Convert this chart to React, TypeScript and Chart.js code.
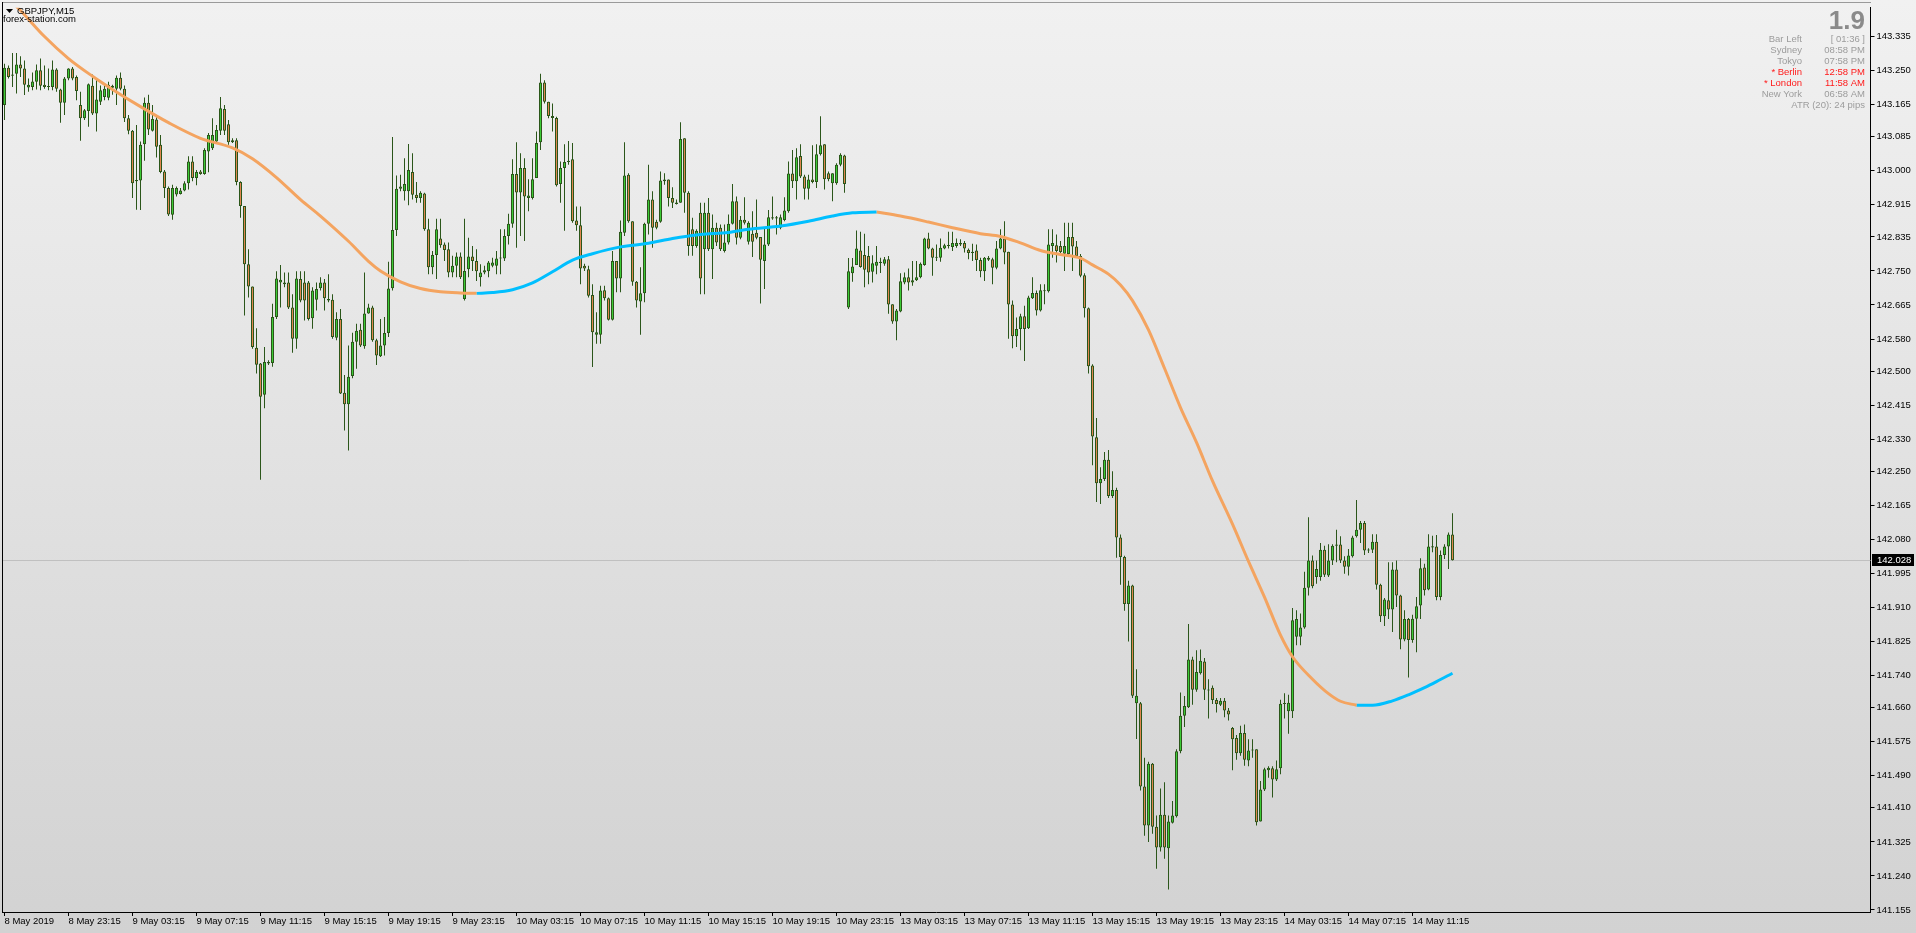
import React, { useEffect, useRef } from 'react';
import { Chart, registerables } from 'chart.js';

Chart.register(...registerables);

// [open, high, low, close]
type OHLC = [number, number, number, number];

// GBPJPY M15 — 8 May 19:15 .. 9 May (bars 0-99)
const candlesMay8to9: OHLC[] = [
  [143.164, 143.267, 143.127, 143.257], [143.257, 143.263, 143.230, 143.234], [143.237, 143.294, 143.209, 143.240], [143.242, 143.294, 143.193, 143.265],
  [143.265, 143.286, 143.234, 143.255], [143.255, 143.275, 143.189, 143.215], [143.208, 143.230, 143.197, 143.215], [143.209, 143.245, 143.201, 143.223],
  [143.222, 143.265, 143.203, 143.251], [143.251, 143.280, 143.201, 143.212], [143.215, 143.263, 143.205, 143.209], [143.209, 143.255, 143.201, 143.211],
  [143.209, 143.275, 143.201, 143.253], [143.253, 143.256, 143.197, 143.205], [143.203, 143.205, 143.120, 143.170], [143.170, 143.234, 143.139, 143.230],
  [143.230, 143.256, 143.226, 143.255], [143.255, 143.259, 143.226, 143.230], [143.234, 143.238, 143.176, 143.199], [143.164, 143.197, 143.075, 143.131],
  [143.131, 143.154, 143.127, 143.151], [143.149, 143.218, 143.110, 143.216], [143.212, 143.240, 143.139, 143.143], [143.143, 143.230, 143.098, 143.178],
  [143.172, 143.213, 143.164, 143.201], [143.184, 143.213, 143.176, 143.205], [143.182, 143.222, 143.176, 143.215], [143.212, 143.215, 143.190, 143.207],
  [143.205, 143.238, 143.164, 143.232], [143.232, 143.245, 143.201, 143.205], [143.205, 143.213, 143.122, 143.131], [143.131, 143.139, 143.091, 143.100],
  [143.100, 143.102, 142.932, 142.969], [142.974, 143.114, 142.903, 142.977], [142.976, 143.073, 142.902, 143.065], [143.066, 143.183, 143.025, 143.170],
  [143.170, 143.190, 143.089, 143.103], [143.100, 143.164, 143.098, 143.129], [143.128, 143.139, 143.033, 143.060], [143.065, 143.089, 142.994, 142.997],
  [142.998, 143.002, 142.932, 142.957], [142.957, 142.961, 142.887, 142.891], [142.890, 142.965, 142.878, 142.957], [142.941, 142.961, 142.936, 142.957],
  [142.942, 142.957, 142.941, 142.951], [142.951, 142.974, 142.949, 142.969], [142.969, 143.036, 142.953, 143.023], [143.023, 143.036, 142.974, 142.982],
  [142.982, 143.002, 142.964, 142.997], [142.998, 143.002, 142.990, 142.992], [142.992, 143.056, 142.990, 143.052], [143.048, 143.094, 142.996, 143.089],
  [143.056, 143.131, 143.052, 143.089], [143.073, 143.114, 143.069, 143.102], [143.100, 143.184, 143.089, 143.156], [143.154, 143.164, 143.089, 143.100],
  [143.116, 143.127, 143.065, 143.071], [143.071, 143.081, 143.069, 143.076], [143.076, 143.081, 142.964, 142.972], [142.972, 142.974, 142.883, 142.912],
  [142.912, 142.912, 142.639, 142.767], [142.767, 142.804, 142.684, 142.711], [142.711, 142.711, 142.556, 142.560], [142.558, 142.607, 142.494, 142.516],
  [142.519, 142.520, 142.229, 142.436], [142.441, 142.560, 142.407, 142.523], [142.519, 142.527, 142.515, 142.523], [142.520, 142.668, 142.511, 142.635],
  [142.635, 142.749, 142.630, 142.731], [142.721, 142.765, 142.659, 142.728], [142.721, 142.746, 142.709, 142.717], [142.721, 142.746, 142.655, 142.659],
  [142.659, 142.692, 142.546, 142.581], [142.581, 142.749, 142.556, 142.731], [142.730, 142.749, 142.672, 142.676], [142.721, 142.749, 142.626, 142.676],
  [142.721, 142.725, 142.626, 142.630], [142.632, 142.709, 142.606, 142.701], [142.678, 142.721, 142.651, 142.705], [142.707, 142.734, 142.701, 142.721],
  [142.721, 142.730, 142.651, 142.682], [142.676, 142.742, 142.672, 142.680], [142.678, 142.692, 142.581, 142.585], [142.583, 142.647, 142.577, 142.630],
  [142.630, 142.655, 142.443, 142.444], [142.446, 142.490, 142.352, 142.417], [142.417, 142.564, 142.302, 142.486], [142.488, 142.596, 142.482, 142.573],
  [142.573, 142.618, 142.506, 142.601], [142.603, 142.618, 142.560, 142.564], [142.562, 142.746, 142.556, 142.644], [142.644, 142.668, 142.643, 142.659],
  [142.659, 142.663, 142.573, 142.577], [142.577, 142.581, 142.515, 142.539], [142.537, 142.630, 142.535, 142.564], [142.564, 142.635, 142.539, 142.595],
  [142.595, 142.773, 142.585, 142.706], [142.707, 143.084, 142.701, 142.852], [142.852, 142.988, 142.837, 142.955], [142.955, 142.990, 142.949, 142.961],
];

// 9 May 20:15 .. 10 May 23:45 (bars 100-210)
const candlesMay9to10: OHLC[] = [
  [142.949, 143.031, 142.926, 142.967], [142.949, 143.067, 142.914, 143.002], [142.997, 143.044, 142.928, 142.940], [142.940, 142.972, 142.920, 142.932],
  [142.932, 142.949, 142.920, 142.945], [142.943, 142.945, 142.850, 142.854], [142.854, 142.880, 142.742, 142.759], [142.759, 142.800, 142.742, 142.790],
  [142.790, 142.880, 142.730, 142.854], [142.831, 142.880, 142.808, 142.814], [142.816, 142.821, 142.775, 142.802], [142.804, 142.821, 142.734, 142.746],
  [142.746, 142.788, 142.734, 142.763], [142.763, 142.796, 142.734, 142.786], [142.786, 142.796, 142.730, 142.734], [142.680, 142.880, 142.676, 142.750],
  [142.754, 142.833, 142.734, 142.786], [142.786, 142.812, 142.750, 142.775], [142.775, 142.804, 142.725, 142.749], [142.734, 142.767, 142.711, 142.746],
  [142.746, 142.763, 142.742, 142.752], [142.749, 142.775, 142.734, 142.771], [142.763, 142.783, 142.759, 142.771], [142.763, 142.800, 142.742, 142.781],
  [142.781, 142.854, 142.742, 142.783], [142.781, 142.854, 142.775, 142.837], [142.837, 142.893, 142.816, 142.868], [142.868, 143.029, 142.858, 142.992],
  [142.992, 143.071, 142.808, 142.946], [142.946, 143.044, 142.837, 143.007], [143.007, 143.031, 142.825, 142.936], [142.932, 142.979, 142.899, 142.938],
  [142.932, 143.031, 142.928, 142.979], [142.982, 143.098, 142.982, 143.069], [143.071, 143.242, 143.052, 143.220], [143.220, 143.226, 143.168, 143.172],
  [143.172, 143.172, 143.131, 143.137], [143.137, 143.168, 143.098, 143.132], [143.132, 143.135, 142.961, 142.964], [142.967, 143.023, 142.920, 143.007],
  [143.007, 143.066, 142.850, 143.022], [143.022, 143.074, 143.015, 143.025], [143.029, 143.069, 142.870, 142.874], [142.876, 142.911, 142.850, 142.864],
  [142.864, 142.911, 142.717, 142.756], [142.763, 142.768, 142.750, 142.756], [142.754, 142.763, 142.684, 142.688], [142.690, 142.717, 142.510, 142.597],
  [142.591, 142.647, 142.568, 142.597], [142.591, 142.713, 142.568, 142.701], [142.702, 142.713, 142.676, 142.682], [142.682, 142.684, 142.626, 142.628],
  [142.628, 142.800, 142.626, 142.775], [142.775, 142.775, 142.697, 142.731], [142.731, 142.876, 142.697, 142.848], [142.845, 143.071, 142.837, 142.988],
  [142.990, 142.994, 142.870, 142.874], [142.874, 142.874, 142.713, 142.723], [142.723, 142.725, 142.659, 142.676], [142.674, 142.759, 142.591, 142.694],
  [142.694, 142.870, 142.672, 142.868], [142.868, 143.015, 142.841, 142.928], [142.928, 142.949, 142.808, 142.858], [142.873, 142.878, 142.854, 142.858],
  [142.873, 142.998, 142.870, 142.976], [142.978, 142.994, 142.965, 142.974], [142.978, 142.978, 142.911, 142.932], [142.932, 142.959, 142.907, 142.920],
  [142.917, 142.928, 142.916, 142.921], [142.920, 143.121, 142.920, 143.079], [143.081, 143.081, 142.895, 142.945], [142.945, 142.949, 142.788, 142.812],
  [142.854, 142.883, 142.788, 142.812], [142.812, 142.854, 142.808, 142.850], [142.895, 142.920, 142.692, 142.731], [142.804, 142.920, 142.692, 142.895],
  [142.895, 142.932, 142.800, 142.804], [142.804, 142.891, 142.730, 142.858], [142.858, 142.870, 142.812, 142.821], [142.858, 142.866, 142.800, 142.804],
  [142.800, 142.866, 142.796, 142.821], [142.821, 142.891, 142.816, 142.868], [142.868, 142.967, 142.866, 142.924], [142.924, 142.936, 142.816, 142.833],
  [142.833, 142.887, 142.829, 142.878], [142.878, 142.934, 142.866, 142.870], [142.823, 142.874, 142.816, 142.870], [142.843, 142.899, 142.785, 142.823],
  [142.845, 142.928, 142.829, 142.833], [142.835, 142.835, 142.669, 142.778], [142.775, 142.858, 142.705, 142.816], [142.816, 142.902, 142.812, 142.884],
  [142.881, 142.936, 142.878, 142.884], [142.884, 142.887, 142.841, 142.881], [142.858, 142.891, 142.854, 142.884], [142.877, 142.934, 142.874, 142.901],
  [142.899, 143.023, 142.895, 142.993], [142.993, 143.052, 142.957, 142.974], [142.974, 143.056, 142.928, 143.034], [143.037, 143.066, 142.982, 142.986],
  [142.986, 142.990, 142.928, 142.955], [142.955, 142.990, 142.928, 142.978], [142.978, 143.064, 142.969, 142.972], [142.972, 143.066, 142.957, 143.041],
  [143.041, 143.136, 143.038, 143.064], [143.066, 143.066, 142.953, 142.979], [142.994, 142.998, 142.974, 142.979], [142.969, 142.994, 142.924, 142.994],
  [142.969, 143.019, 142.965, 143.015], [143.015, 143.044, 143.011, 143.040], [143.038, 143.040, 142.945, 142.967],
];

// 13 May 00:00 .. 13 May 23:45 (bars 211-306)
const candlesMay13: OHLC[] = [
  [142.659, 142.782, 142.655, 142.749], [142.744, 142.782, 142.723, 142.761], [142.765, 142.851, 142.765, 142.806], [142.801, 142.848, 142.758, 142.760],
  [142.790, 142.843, 142.709, 142.753], [142.787, 142.812, 142.717, 142.746], [142.748, 142.789, 142.721, 142.769], [142.763, 142.812, 142.742, 142.773],
  [142.770, 142.783, 142.745, 142.773], [142.768, 142.785, 142.763, 142.779], [142.779, 142.787, 142.643, 142.666], [142.667, 142.667, 142.618, 142.624],
  [142.624, 142.655, 142.577, 142.651], [142.649, 142.744, 142.647, 142.724], [142.721, 142.746, 142.717, 142.734], [142.734, 142.756, 142.701, 142.721],
  [142.721, 142.775, 142.713, 142.727], [142.727, 142.775, 142.725, 142.734], [142.734, 142.771, 142.732, 142.768], [142.765, 142.833, 142.763, 142.831],
  [142.831, 142.845, 142.804, 142.806], [142.806, 142.808, 142.738, 142.783], [142.783, 142.816, 142.775, 142.784], [142.783, 142.831, 142.773, 142.808],
  [142.806, 142.818, 142.804, 142.814], [142.812, 142.848, 142.806, 142.814], [142.810, 142.848, 142.800, 142.820], [142.812, 142.831, 142.808, 142.820],
  [142.816, 142.829, 142.812, 142.820], [142.820, 142.825, 142.796, 142.806], [142.803, 142.806, 142.779, 142.795], [142.798, 142.818, 142.775, 142.795],
  [142.801, 142.816, 142.750, 142.777], [142.777, 142.783, 142.734, 142.749], [142.749, 142.785, 142.725, 142.783], [142.783, 142.787, 142.775, 142.778],
  [142.779, 142.783, 142.717, 142.758], [142.758, 142.825, 142.754, 142.806], [142.806, 142.854, 142.804, 142.831], [142.831, 142.874, 142.767, 142.796],
  [142.798, 142.798, 142.581, 142.666], [142.666, 142.676, 142.557, 142.587], [142.587, 142.634, 142.560, 142.605], [142.605, 142.643, 142.552, 142.637],
  [142.637, 142.663, 142.525, 142.605], [142.607, 142.688, 142.605, 142.684], [142.682, 142.734, 142.680, 142.695], [142.695, 142.701, 142.639, 142.651],
  [142.651, 142.717, 142.649, 142.702], [142.699, 142.717, 142.667, 142.702], [142.699, 142.854, 142.696, 142.816], [142.812, 142.854, 142.783, 142.820],
  [142.814, 142.841, 142.771, 142.800], [142.812, 142.825, 142.787, 142.797], [142.793, 142.870, 142.750, 142.812], [142.792, 142.870, 142.787, 142.835],
  [142.835, 142.870, 142.750, 142.811], [142.811, 142.825, 142.783, 142.787], [142.787, 142.792, 142.734, 142.738], [142.739, 142.744, 142.634, 142.657],
  [142.657, 142.659, 142.494, 142.512], [142.514, 142.517, 142.265, 142.337], [142.335, 142.383, 142.173, 142.220], [142.220, 142.260, 142.168, 142.231],
  [142.231, 142.298, 142.226, 142.279], [142.279, 142.303, 142.183, 142.188], [142.188, 142.250, 142.183, 142.203], [142.203, 142.209, 142.034, 142.085],
  [142.085, 142.092, 141.967, 142.036], [142.036, 142.039, 141.902, 141.919], [141.919, 141.977, 141.825, 141.965], [141.965, 141.967, 141.684, 141.690],
  [141.671, 141.756, 141.582, 141.690], [141.671, 141.674, 141.453, 141.463], [141.463, 141.535, 141.340, 141.366], [141.366, 141.525, 141.325, 141.520],
  [141.520, 141.522, 141.345, 141.363], [141.363, 141.391, 141.258, 141.311], [141.311, 141.458, 141.301, 141.393], [141.393, 141.474, 141.283, 141.311],
  [141.309, 141.391, 141.206, 141.376], [141.373, 141.427, 141.371, 141.391], [141.389, 141.556, 141.386, 141.551], [141.551, 141.698, 141.546, 141.640],
  [141.640, 141.689, 141.612, 141.664], [141.661, 141.869, 141.659, 141.780], [141.780, 141.787, 141.667, 141.705], [141.705, 141.803, 141.700, 141.749],
  [141.746, 141.805, 141.743, 141.777], [141.775, 141.784, 141.679, 141.705], [141.705, 141.731, 141.633, 141.703], [141.710, 141.715, 141.669, 141.679],
  [141.679, 141.684, 141.648, 141.669], [141.667, 141.684, 141.664, 141.677], [141.677, 141.684, 141.636, 141.653], [141.653, 141.659, 141.628, 141.643],
];

// 14 May 00:00 .. 14 May 13:45 (bars 307-362)
const candlesMay14: OHLC[] = [
  [141.609, 141.612, 141.504, 141.581], [141.584, 141.592, 141.530, 141.546], [141.546, 141.615, 141.540, 141.597], [141.597, 141.618, 141.515, 141.530],
  [141.528, 141.581, 141.514, 141.553], [141.553, 141.581, 141.535, 141.555], [141.556, 141.556, 141.366, 141.374], [141.376, 141.477, 141.376, 141.456],
  [141.456, 141.510, 141.452, 141.506], [141.504, 141.514, 141.485, 141.510], [141.509, 141.514, 141.436, 141.481], [141.481, 141.528, 141.477, 141.506],
  [141.509, 141.680, 141.494, 141.670], [141.670, 141.696, 141.633, 141.669], [141.651, 141.692, 141.595, 141.672], [141.651, 141.909, 141.634, 141.878],
  [141.837, 141.903, 141.816, 141.881], [141.837, 141.895, 141.816, 141.860], [141.860, 141.999, 141.857, 141.959], [141.959, 142.135, 141.940, 142.027],
  [142.027, 142.040, 141.958, 141.963], [141.986, 142.027, 141.969, 142.006], [141.986, 142.071, 141.977, 142.054], [142.054, 142.064, 141.986, 141.992],
  [141.990, 142.068, 141.986, 142.027], [142.027, 142.068, 142.016, 142.064], [142.064, 142.104, 142.023, 142.067], [142.067, 142.088, 142.021, 142.027],
  [142.027, 142.038, 141.994, 142.012], [142.012, 142.056, 141.990, 142.040], [142.038, 142.089, 142.035, 142.085], [142.088, 142.178, 142.085, 142.104],
  [142.104, 142.126, 142.071, 142.121], [142.121, 142.126, 142.041, 142.052], [142.052, 142.058, 142.046, 142.054], [142.054, 142.093, 142.046, 142.074],
  [142.074, 142.093, 141.955, 141.967], [141.967, 141.969, 141.874, 141.888], [141.888, 141.934, 141.864, 141.930], [141.928, 142.023, 141.881, 141.905],
  [141.905, 142.023, 141.849, 142.005], [142.005, 142.027, 141.911, 141.940], [141.940, 141.942, 141.806, 141.830], [141.830, 141.903, 141.826, 141.881],
  [141.881, 141.884, 141.735, 141.829], [141.829, 141.892, 141.822, 141.882], [141.882, 141.936, 141.798, 141.913], [141.915, 142.033, 141.881, 142.008],
  [142.010, 142.019, 141.940, 141.953], [141.955, 142.093, 141.953, 142.062], [142.060, 142.089, 142.048, 142.063], [142.062, 142.091, 141.928, 141.936],
  [141.936, 142.052, 141.928, 142.041], [142.041, 142.068, 142.031, 142.062], [142.062, 142.097, 142.006, 142.092], [142.092, 142.145, 142.027, 142.028],
];

// Coloured moving average, read at sample bars
const maBars = [0, 4, 10, 16, 22, 27, 34, 41, 49, 57, 62, 68, 74, 79, 86, 91, 94, 99, 104, 109, 114, 118, 122, 127, 132, 137, 142, 147, 154, 161, 167, 174, 181, 186, 194, 201, 207, 212, 218, 224, 231, 237, 244, 249, 254, 259, 264, 269, 272, 276, 279, 282, 286, 290, 294, 298, 302, 307, 311, 315, 319, 322, 327, 331, 334, 338, 342, 347, 351, 355, 358, 362];
const maValues = [143.44, 143.40, 143.335, 143.280, 143.236, 143.203, 143.160, 143.120, 143.081, 143.057, 143.030, 142.983, 142.928, 142.887, 142.824, 142.774, 142.750, 142.723, 142.706, 142.698, 142.695, 142.694, 142.696, 142.703, 142.720, 142.748, 142.777, 142.793, 142.810, 142.819, 142.831, 142.841, 142.846, 142.854, 142.862, 142.874, 142.887, 142.895, 142.897, 142.887, 142.872, 142.858, 142.843, 142.836, 142.820, 142.801, 142.791, 142.782, 142.765, 142.742, 142.715, 142.676, 142.603, 142.507, 142.409, 142.322, 142.226, 142.118, 142.025, 141.936, 141.841, 141.787, 141.731, 141.695, 141.676, 141.666, 141.666, 141.677, 141.692, 141.710, 141.725, 141.746];

const timeLabels = ['8 May 2019', '8 May 23:15', '9 May 03:15', '9 May 07:15', '9 May 11:15', '9 May 15:15', '9 May 19:15', '9 May 23:15', '10 May 03:15', '10 May 07:15', '10 May 11:15', '10 May 15:15', '10 May 19:15', '10 May 23:15', '13 May 03:15', '13 May 07:15', '13 May 11:15', '13 May 15:15', '13 May 19:15', '13 May 23:15', '14 May 03:15', '14 May 07:15', '14 May 11:15'];
const BARS_PER_LABEL = 16;

const yTickValues = [143.335, 143.250, 143.165, 143.085, 143.000, 142.915, 142.835, 142.750, 142.665, 142.580, 142.500, 142.415, 142.330, 142.250, 142.165, 142.080, 141.995, 141.910, 141.825, 141.740, 141.660, 141.575, 141.490, 141.410, 141.325, 141.240, 141.155];
const Y_MIN = 141.150;
const Y_MAX = 143.407;
const LAST_PRICE = 142.028;
const SLOT_COUNT = 467;

const symbolTitle = 'GBPJPY,M15';
const siteTitle = 'forex-station.com';
const bigValue = '1.9';
const infoRows = [
  { label: 'Bar Left', value: '[ 01:36 ]', red: false },
  { label: 'Sydney', value: '08:58 PM', red: false },
  { label: 'Tokyo', value: '07:58 PM', red: false },
  { label: '* Berlin', value: '12:58 PM', red: true },
  { label: '* London', value: '11:58 AM', red: true },
  { label: 'New York', value: '06:58 AM', red: false },
];
const atrText = 'ATR (20): 24 pips';

const BULL = '#3ccb36';
const BEAR = '#e0864f';
const WICK = '#2b561a';
const MA_DOWN = '#f4a460';
const MA_UP = '#00bfff';
const FONT = '"Liberation Sans", Arial, sans-serif';

export default function App() {
  const ref = useRef<HTMLCanvasElement | null>(null);

  useEffect(() => {
    const canvas = ref.current;
    if (!canvas) return;
    const candles: OHLC[] = [...candlesMay8to9, ...candlesMay9to10, ...candlesMay13, ...candlesMay14];
    const slotLabels = Array.from({ length: SLOT_COUNT }, (_, i) => String(i));

    // split the moving average into runs of equal slope direction (falling = orange, rising = blue)
    const runs: { color: string; ks: number[] }[] = [];
    for (let k = 0; k < maBars.length - 1; k++) {
      const color = maValues[k + 1] >= maValues[k] ? MA_UP : MA_DOWN;
      const last = runs[runs.length - 1];
      if (last && last.color === color) last.ks.push(k + 1);
      else runs.push({ color, ks: [k, k + 1] });
    }
    const maDatasets = runs.map((run) => {
      const data: (number | null)[] = candles.map(() => null);
      run.ks.forEach((k) => { data[maBars[k]] = maValues[k]; });
      return {
        type: 'line',
        data,
        spanGaps: true,
        borderWidth: 3,
        pointRadius: 0,
        cubicInterpolationMode: 'monotone',
        borderColor: run.color,
        order: 0,
      } as any;
    });

    const overlay = {
      id: 'mtOverlay',
      beforeDraw(chart: any) {
        const { ctx, width, height } = chart;
        const g = ctx.createLinearGradient(0, 0, 0, height);
        g.addColorStop(0, '#f1f1f1');
        g.addColorStop(1, '#d2d2d2');
        ctx.save();
        ctx.fillStyle = g;
        ctx.fillRect(0, 0, width, height);
        ctx.restore();
      },
      beforeDatasetsDraw(chart: any) {
        const { ctx, chartArea, scales } = chart;
        const py = Math.round(scales.y.getPixelForValue(LAST_PRICE)) + 0.5;
        ctx.save();
        ctx.strokeStyle = '#c0c0c0';
        ctx.lineWidth = 1;
        ctx.beginPath();
        ctx.moveTo(chartArea.left, py);
        ctx.lineTo(chartArea.right, py);
        ctx.stroke();
        ctx.restore();
      },
      afterDraw(chart: any) {
        const { ctx, chartArea, scales } = chart;
        ctx.save();
        // frame
        ctx.fillStyle = '#9a9a9a';
        ctx.fillRect(2, 2, Math.round(chartArea.right) - 2, 1);
        ctx.fillStyle = '#000';
        ctx.fillRect(2, 2, 1, Math.round(chartArea.bottom) - 2);
        // title
        ctx.beginPath();
        ctx.moveTo(6, 9);
        ctx.lineTo(13, 9);
        ctx.lineTo(9.5, 13);
        ctx.closePath();
        ctx.fill();
        ctx.font = `9.5px ${FONT}`;
        ctx.textBaseline = 'middle';
        ctx.textAlign = 'left';
        ctx.fillText(symbolTitle, 17, 11);
        ctx.fillText(siteTitle, 3, 19.5);
        // info panel
        ctx.textAlign = 'right';
        ctx.fillStyle = '#8a8a8a';
        ctx.font = `bold 26px ${FONT}`;
        ctx.textBaseline = 'alphabetic';
        ctx.fillText(bigValue, 1865, 29);
        ctx.font = `9.5px ${FONT}`;
        ctx.textBaseline = 'middle';
        infoRows.forEach((r, i) => {
          const y = 39 + i * 11;
          ctx.fillStyle = r.red ? '#ff1a1a' : '#9c9c9c';
          ctx.fillText(r.label, 1802, y);
          ctx.fillText(r.value, 1865, y);
        });
        ctx.fillStyle = '#9c9c9c';
        ctx.fillText(atrText, 1865, 39 + 6 * 11);
        // price box on axis
        const py = Math.round(scales.y.getPixelForValue(LAST_PRICE));
        ctx.fillStyle = '#000';
        ctx.fillRect(Math.round(chartArea.right) + 1, py - 6, 42, 12);
        ctx.fillStyle = '#fff';
        ctx.textAlign = 'left';
        ctx.fillText(LAST_PRICE.toFixed(3), Math.round(chartArea.right) + 6, py);
        ctx.restore();
      },
    };

    const chart = new Chart(canvas, {
      type: 'bar',
      data: {
        labels: slotLabels,
        datasets: [
          ...maDatasets,
          {
            type: 'bar',
            label: 'Body',
            data: candles.map((c) => [c[0], c[3]]),
            backgroundColor: candles.map((c) => (c[3] >= c[0] ? BULL : BEAR)),
            borderColor: WICK,
            borderWidth: 1,
            borderSkipped: false,
            barThickness: 3,
            minBarLength: 1,
            grouped: false,
            inflateAmount: 0,
            order: 1,
          } as any,
          {
            type: 'bar',
            label: 'Wick',
            data: candles.map((c) => [c[2], c[1]]),
            backgroundColor: WICK,
            borderWidth: 0,
            barThickness: 1,
            minBarLength: 1,
            grouped: false,
            inflateAmount: 0,
            order: 2,
          } as any,
        ],
      },
      options: {
        animation: false,
        responsive: false,
        devicePixelRatio: 1,
        events: [],
        layout: { padding: { left: 2.5, top: 2, right: 0, bottom: 0 } },
        plugins: { legend: { display: false }, tooltip: { enabled: false } },
        scales: {
          x: {
            type: 'category',
            offset: true,
            grid: { display: true, drawOnChartArea: false, drawTicks: true, tickLength: 4, color: '#000', offset: false },
            border: { display: true, color: '#000' },
            ticks: {
              autoSkip: false,
              maxRotation: 0,
              minRotation: 0,
              align: 'start',
              padding: 0,
              color: '#000',
              font: { family: FONT, size: 9.5 },
              callback: (_v: any, i: number) => timeLabels[i] ?? '',
            },
            afterBuildTicks: (s: any) => {
              s.ticks = timeLabels.map((_, k) => ({ value: k * BARS_PER_LABEL }));
            },
            afterFit: (s: any) => { s.height = 21; },
          },
          y: {
            position: 'right',
            min: Y_MIN,
            max: Y_MAX,
            bounds: 'data',
            grid: { display: true, drawOnChartArea: false, drawTicks: true, tickLength: 4, color: '#000' },
            border: { display: true, color: '#000' },
            ticks: {
              autoSkip: false,
              padding: 2,
              color: '#000',
              font: { family: FONT, size: 9.5 },
              callback: (v: any) => Number(v).toFixed(3),
            },
            afterBuildTicks: (s: any) => {
              s.ticks = yTickValues.map((v) => ({ value: v }));
            },
            afterFit: (s: any) => { s.width = 45.5; },
          },
        },
      } as any,
      plugins: [overlay],
    });
    return () => chart.destroy();
  }, []);

  return (
    <div style={{ position: 'fixed', left: 0, top: 0, width: 1916, height: 933, overflow: 'hidden' }}>
      <canvas ref={ref} width={1916} height={933} style={{ display: 'block' }} />
    </div>
  );
}
